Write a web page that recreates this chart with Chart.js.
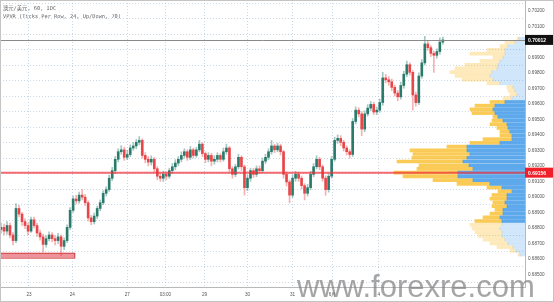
<!DOCTYPE html>
<html>
<head>
<meta charset="utf-8">
<script src="https://cdn.jsdelivr.net/npm/chart.js@4.4.0/dist/chart.umd.min.js"></script>
<style>
  html, body { margin: 0; padding: 0; background: #fff; }
  #wrap { position: relative; width: 554px; height: 302px; overflow: hidden; }
  #c { display: block; }
  .hdr { position: absolute; left: 3px; font: 5.3px "DejaVu Sans Mono", "Noto Sans CJK SC", monospace; color: #666; white-space: nowrap; }
  #wm { position: absolute; left: 297px; top: 271px; font: 31px/31px "Liberation Sans", sans-serif; color: rgba(130,130,130,0.72); white-space: nowrap; }
</style>
</head>
<body>
<div id="wrap">
  <canvas id="c" width="554" height="302"></canvas>
  <div class="hdr" style="top:4px">澳元/美元, 60, IDC</div>
  <div class="hdr" style="top:13px">VPVR (Ticks Per Row, 24, Up/Down, 70)</div>
  <div id="wm">www.forexre.com</div>
</div>
<script>
// --- AUD/USD 60 min candles ---
const opens = [
  0.68790, 0.68803, 0.68779, 0.68815, 0.68754, 0.68718, 0.68925, 0.68889, 0.68840, 0.68815,
  0.68779, 0.68852, 0.68815, 0.68767, 0.68742, 0.68693, 0.68730, 0.68754, 0.68730, 0.68718,
  0.68742, 0.68681, 0.68718, 0.68803, 0.68913, 0.68986, 0.68974, 0.69011, 0.68998, 0.68962,
  0.68864, 0.68840, 0.68876, 0.68925, 0.68962, 0.69023, 0.69047, 0.69120, 0.69169, 0.69242,
  0.69291, 0.69303, 0.69255, 0.69273, 0.69315, 0.69328, 0.69352, 0.69364, 0.69267, 0.69242,
  0.69224, 0.69242, 0.69181, 0.69133, 0.69120, 0.69145, 0.69133, 0.69169, 0.69194, 0.69218,
  0.69242, 0.69267, 0.69291, 0.69255, 0.69303, 0.69267, 0.69303, 0.69340, 0.69279, 0.69242,
  0.69267, 0.69230, 0.69242, 0.69267, 0.69242, 0.69291, 0.69315, 0.69181, 0.69145, 0.69194,
  0.69255, 0.69194, 0.69059, 0.69120, 0.69169, 0.69145, 0.69181, 0.69169, 0.69230, 0.69255,
  0.69291, 0.69328, 0.69303, 0.69328, 0.69291, 0.69145, 0.69096, 0.69011, 0.69120, 0.69145,
  0.69120, 0.69072, 0.69023, 0.69059, 0.69145, 0.69194, 0.69242, 0.69194, 0.69120, 0.69047,
  0.69133, 0.69242, 0.69364, 0.69377, 0.69352, 0.69315, 0.69291, 0.69273, 0.69486, 0.69559,
  0.69535, 0.69437, 0.69535, 0.69572, 0.69596, 0.69547, 0.69559, 0.69608, 0.69767, 0.69755,
  0.69742, 0.69706, 0.69669, 0.69645, 0.69718, 0.69791, 0.69852, 0.69803, 0.69657, 0.69608,
  0.69779, 0.69864, 0.69986, 0.69962, 0.69925, 0.69913, 0.69937, 0.69998
];
const highs = [
  0.68830, 0.68825, 0.68840, 0.68830, 0.68770, 0.68956, 0.68945, 0.68900, 0.68860, 0.68830,
  0.68870, 0.68870, 0.68830, 0.68785, 0.68760, 0.68750, 0.68775, 0.68770, 0.68750, 0.68765,
  0.68755, 0.68735, 0.68820, 0.68930, 0.69005, 0.69010, 0.69030, 0.69047, 0.69015, 0.68975,
  0.68880, 0.68895, 0.68940, 0.68980, 0.69040, 0.69065, 0.69140, 0.69190, 0.69260, 0.69310,
  0.69330, 0.69320, 0.69300, 0.69335, 0.69350, 0.69370, 0.69389, 0.69375, 0.69285, 0.69260,
  0.69265, 0.69255, 0.69195, 0.69150, 0.69165, 0.69160, 0.69185, 0.69215, 0.69240, 0.69260,
  0.69290, 0.69310, 0.69305, 0.69325, 0.69315, 0.69320, 0.69364, 0.69350, 0.69290, 0.69285,
  0.69280, 0.69265, 0.69285, 0.69280, 0.69315, 0.69340, 0.69325, 0.69195, 0.69210, 0.69275,
  0.69265, 0.69205, 0.69140, 0.69185, 0.69185, 0.69200, 0.69200, 0.69250, 0.69275, 0.69310,
  0.69364, 0.69340, 0.69345, 0.69340, 0.69300, 0.69160, 0.69110, 0.69140, 0.69165, 0.69160,
  0.69135, 0.69085, 0.69080, 0.69165, 0.69215, 0.69265, 0.69255, 0.69205, 0.69135, 0.69150,
  0.69260, 0.69385, 0.69400, 0.69395, 0.69365, 0.69330, 0.69305, 0.69505, 0.69580, 0.69575,
  0.69550, 0.69555, 0.69595, 0.69615, 0.69610, 0.69580, 0.69630, 0.69803, 0.69790, 0.69775,
  0.69760, 0.69720, 0.69685, 0.69740, 0.69810, 0.69875, 0.69865, 0.69815, 0.69675, 0.69800,
  0.69885, 0.70035, 0.70005, 0.69975, 0.69940, 0.69955, 0.70025, 0.70030
];
const lows = [
  0.68765, 0.68755, 0.68760, 0.68735, 0.68690, 0.68705, 0.68870, 0.68815, 0.68795, 0.68755,
  0.68770, 0.68800, 0.68745, 0.68720, 0.68645, 0.68675, 0.68715, 0.68710, 0.68690, 0.68700,
  0.68620, 0.68660, 0.68705, 0.68790, 0.68900, 0.68955, 0.68960, 0.68980, 0.68945, 0.68845,
  0.68820, 0.68825, 0.68860, 0.68910, 0.68950, 0.69005, 0.69035, 0.69105, 0.69150, 0.69225,
  0.69275, 0.69235, 0.69240, 0.69260, 0.69300, 0.69310, 0.69335, 0.69250, 0.69220, 0.69200,
  0.69205, 0.69160, 0.69110, 0.69100, 0.69100, 0.69110, 0.69120, 0.69150, 0.69175, 0.69200,
  0.69225, 0.69250, 0.69235, 0.69240, 0.69250, 0.69255, 0.69290, 0.69260, 0.69220, 0.69225,
  0.69200, 0.69210, 0.69225, 0.69225, 0.69230, 0.69275, 0.69160, 0.69120, 0.69130, 0.69180,
  0.69170, 0.69011, 0.69040, 0.69100, 0.69125, 0.69130, 0.69150, 0.69155, 0.69215, 0.69240,
  0.69275, 0.69285, 0.69290, 0.69270, 0.69120, 0.69070, 0.68962, 0.68995, 0.69100, 0.69100,
  0.69050, 0.68980, 0.69005, 0.69045, 0.69130, 0.69180, 0.69175, 0.69100, 0.69010, 0.69030,
  0.69120, 0.69230, 0.69345, 0.69330, 0.69295, 0.69270, 0.69250, 0.69260, 0.69470, 0.69515,
  0.69395, 0.69420, 0.69520, 0.69555, 0.69530, 0.69530, 0.69545, 0.69590, 0.69735, 0.69720,
  0.69685, 0.69650, 0.69620, 0.69630, 0.69700, 0.69775, 0.69785, 0.69559, 0.69585, 0.69595,
  0.69765, 0.69850, 0.69945, 0.69905, 0.69803, 0.69895, 0.69920, 0.69985
];
const closes = [
  0.68803, 0.68779, 0.68815, 0.68754, 0.68718, 0.68925, 0.68889, 0.68840, 0.68815, 0.68779,
  0.68852, 0.68815, 0.68767, 0.68742, 0.68693, 0.68730, 0.68754, 0.68730, 0.68718, 0.68742,
  0.68681, 0.68718, 0.68803, 0.68913, 0.68986, 0.68974, 0.69011, 0.68998, 0.68962, 0.68864,
  0.68840, 0.68876, 0.68925, 0.68962, 0.69023, 0.69047, 0.69120, 0.69169, 0.69242, 0.69291,
  0.69303, 0.69255, 0.69273, 0.69315, 0.69328, 0.69352, 0.69364, 0.69267, 0.69242, 0.69224,
  0.69242, 0.69181, 0.69133, 0.69120, 0.69145, 0.69133, 0.69169, 0.69194, 0.69218, 0.69242,
  0.69267, 0.69291, 0.69255, 0.69303, 0.69267, 0.69303, 0.69340, 0.69279, 0.69242, 0.69267,
  0.69230, 0.69242, 0.69267, 0.69242, 0.69291, 0.69315, 0.69181, 0.69145, 0.69194, 0.69255,
  0.69194, 0.69059, 0.69120, 0.69169, 0.69145, 0.69181, 0.69169, 0.69230, 0.69255, 0.69291,
  0.69328, 0.69303, 0.69328, 0.69291, 0.69145, 0.69096, 0.69011, 0.69120, 0.69145, 0.69120,
  0.69072, 0.69023, 0.69059, 0.69145, 0.69194, 0.69242, 0.69194, 0.69120, 0.69047, 0.69133,
  0.69242, 0.69364, 0.69377, 0.69352, 0.69315, 0.69291, 0.69273, 0.69486, 0.69559, 0.69535,
  0.69437, 0.69535, 0.69572, 0.69596, 0.69547, 0.69559, 0.69608, 0.69767, 0.69755, 0.69742,
  0.69706, 0.69669, 0.69645, 0.69718, 0.69791, 0.69852, 0.69803, 0.69657, 0.69608, 0.69779,
  0.69864, 0.69986, 0.69962, 0.69925, 0.69913, 0.69937, 0.69998, 0.70012
];

// x axis labels, positioned on the candle index
const xTickPos = [9.3, 23.7, 42, 54.7, 67.7, 82, 97, 110.3, 125.7];
const xTickLabels = ['23', '24', '27', '03:00', '29', '30', '31', '6月', '4'];

// --- VPVR rows (24 ticks per row), up / down volume ---
const rowPrices = [
  0.70020, 0.69996, 0.69972, 0.69948, 0.69924, 0.69900, 0.69876, 0.69852, 0.69828, 0.69804,
  0.69780, 0.69756, 0.69732, 0.69708, 0.69684, 0.69660, 0.69636, 0.69612, 0.69588, 0.69564,
  0.69540, 0.69516, 0.69492, 0.69468, 0.69444, 0.69420, 0.69396, 0.69372, 0.69348, 0.69324,
  0.69300, 0.69276, 0.69252, 0.69228, 0.69204, 0.69180, 0.69156, 0.69132, 0.69108, 0.69084,
  0.69060, 0.69036, 0.69012, 0.68988, 0.68964, 0.68940, 0.68916, 0.68892, 0.68868, 0.68844,
  0.68820, 0.68796, 0.68772, 0.68748, 0.68724, 0.68700, 0.68676, 0.68652, 0.68628
];
const upVol = [
  48, 80, 136, 160, 160, 176, 200, 216, 224, 264,
  280, 256, 200, 96, 80, 64, 104, 160, 240, 256,
  240, 216, 176, 144, 136, 120, 104, 104, 200, 464,
  464, 440, 464, 496, 448, 416, 536, 536, 416, 280,
  184, 104, 144, 144, 160, 144, 176, 176, 200, 184,
  184, 200, 184, 184, 160, 136, 96, 72, 40
];
const downVol = [
  16, 80, 64, 144, 280, 80, 160, 264, 336, 336,
  280, 248, 104, 48, 56, 56, 72, 120, 160, 184,
  184, 40, 88, 136, 88, 80, 96, 232, 240, 160,
  456, 456, 440, 528, 400, 448, 512, 440, 320, 264,
  120, 112, 120, 136, 96, 120, 64, 104, 136, 216,
  256, 224, 216, 192, 176, 144, 128, 48, 16
];
const vaHigh = 0.69612;
const vaLow = 0.68844;
const pocPrice = 0.69156;
const lastPrice = 0.70012;

// rectangle drawn at the bottom left (candle index / price)
const zoneFrom = -0.33, zoneTo = 24.7;
const zoneHigh = 0.68639, zoneLow = 0.68608;

// --- colours ---
const UP = 'rgba(31,116,100,0.92)', DOWN = 'rgba(232,57,60,0.9)';
const UP_WICK = 'rgba(31,116,100,0.4)', DOWN_WICK = 'rgba(232,57,60,0.4)';
const VP_UP = 'rgba(40,140,230,0.75)', VP_DOWN = 'rgba(248,188,40,0.78)';
const VP_UP_OUT = 'rgba(40,140,230,0.22)', VP_DOWN_OUT = 'rgba(248,188,40,0.32)';
const GRID = 'rgba(150,180,210,0.5)';

const idx = closes.map((c, i) => i);
const isUp = idx.map(i => closes[i] >= opens[i]);
const inVA = rowPrices.map(p => p <= vaHigh + 1e-9 && p >= vaLow - 1e-9);

const overlays = {
  id: 'overlays',
  beforeDatasetsDraw(chart) {
    const { ctx, scales: { x, y } } = chart;
    const x0 = x.getPixelForValue(zoneFrom), x1 = x.getPixelForValue(zoneTo);
    const y0 = y.getPixelForValue(zoneHigh), y1 = y.getPixelForValue(zoneLow);
    ctx.save();
    ctx.fillStyle = 'rgba(232,120,130,0.8)';
    ctx.fillRect(x0, y0, x1 - x0, y1 - y0);
    ctx.strokeStyle = '#d64545';
    ctx.lineWidth = 1;
    ctx.strokeRect(x0 + 0.5, y0 + 0.5, x1 - x0 - 1, y1 - y0);
    ctx.restore();
  },
  afterDatasetsDraw(chart) {
    const { ctx, chartArea: a, scales: { y } } = chart;
    ctx.save();
    const yl = Math.round(y.getPixelForValue(lastPrice)) + 0.5;
    ctx.strokeStyle = '#8a8a8a';
    ctx.lineWidth = 1;
    ctx.beginPath(); ctx.moveTo(a.left, yl); ctx.lineTo(a.right, yl); ctx.stroke();
    const yp = y.getPixelForValue(pocPrice);
    ctx.strokeStyle = 'rgba(240,50,60,0.72)';
    ctx.lineWidth = 2;
    ctx.beginPath(); ctx.moveTo(a.left, yp); ctx.lineTo(a.right, yp); ctx.stroke();
    ctx.restore();
  },
  afterDraw(chart) {
    const { ctx, chartArea: a, scales: { y } } = chart;
    ctx.save();
    ctx.font = 'bold 5px "Liberation Sans"';
    ctx.textBaseline = 'middle';
    [[lastPrice, '#111'], [pocPrice, '#f0202a']].forEach(([p, col]) => {
      const py = y.getPixelForValue(p);
      ctx.fillStyle = col;
      ctx.fillRect(a.right, py - 5, chart.width - a.right, 10);
      ctx.fillStyle = '#fff';
      ctx.fillText(p.toFixed(5), a.right + 3, py + 0.5);
    });
    ctx.strokeStyle = '#c4c4c4';
    ctx.lineWidth = 1;
    ctx.strokeRect(0.5, 0.5, chart.width - 1, chart.height - 1);
    ctx.restore();
  }
};

new Chart(document.getElementById('c'), {
  type: 'bar',
  data: {
    datasets: [
      {
        label: 'wicks',
        data: idx.map(i => ({ x: i, y: [lows[i], highs[i]] })),
        backgroundColor: idx.map(i => isUp[i] ? UP_WICK : DOWN_WICK),
        barThickness: 1, grouped: false, xAxisID: 'x', yAxisID: 'y', order: 3
      },
      {
        label: 'bodies',
        data: idx.map(i => ({ x: i, y: [opens[i], closes[i]] })),
        backgroundColor: idx.map(i => isUp[i] ? UP : DOWN),
        barThickness: 2, minBarLength: 1, grouped: false, xAxisID: 'x', yAxisID: 'y', order: 2
      },
      {
        label: 'vp up',
        indexAxis: 'y',
        data: rowPrices.map((p, i) => ({ y: p, x: [0, upVol[i]] })),
        backgroundColor: inVA.map(v => v ? VP_UP : VP_UP_OUT),
        barThickness: 3, grouped: false, xAxisID: 'xv', yAxisID: 'y', order: 1
      },
      {
        label: 'vp down',
        indexAxis: 'y',
        data: rowPrices.map((p, i) => ({ y: p, x: [upVol[i], upVol[i] + downVol[i]] })),
        backgroundColor: inVA.map(v => v ? VP_DOWN : VP_DOWN_OUT),
        barThickness: 3, grouped: false, xAxisID: 'xv', yAxisID: 'y', order: 1
      }
    ]
  },
  options: {
    responsive: false,
    animation: false,
    layout: { padding: 0 },
    plugins: { legend: { display: false }, tooltip: { enabled: false } },
    scales: {
      x: {
        type: 'linear', position: 'bottom', min: -0.33, max: 174.33, offset: false,
        afterBuildTicks: s => { s.ticks = xTickPos.map(v => ({ value: v })); },
        afterFit: s => { s.height = 15; s.paddingLeft = 0; s.paddingRight = 0; },
        ticks: {
          autoSkip: false, maxRotation: 0, padding: 5, color: '#555',
          font: { family: 'Liberation Sans', size: 4.6 },
          callback: (v, i) => xTickLabels[i]
        },
        grid: { color: GRID, drawTicks: false, offset: false },
        border: { color: '#b8b8b8', dash: [1, 2] }
      },
      xv: {
        type: 'linear', position: 'top', display: false, reverse: true,
        min: 0, max: 4200, offset: false, grid: { offset: false }
      },
      y: {
        type: 'linear', position: 'right', min: 0.68470, max: 0.70218,
        afterFit: s => { s.width = 29; s.paddingTop = 0; s.paddingBottom = 0; },
        ticks: {
          stepSize: 0.001, includeBounds: false, padding: 3, color: '#555',
          font: { family: 'Liberation Sans', size: 4.6 },
          callback: v => v.toFixed(5)
        },
        grid: { color: GRID, drawTicks: false },
        border: { color: '#b8b8b8', dash: [1, 2] }
      }
    }
  },
  plugins: [overlays]
});
</script>
</body>
</html>
